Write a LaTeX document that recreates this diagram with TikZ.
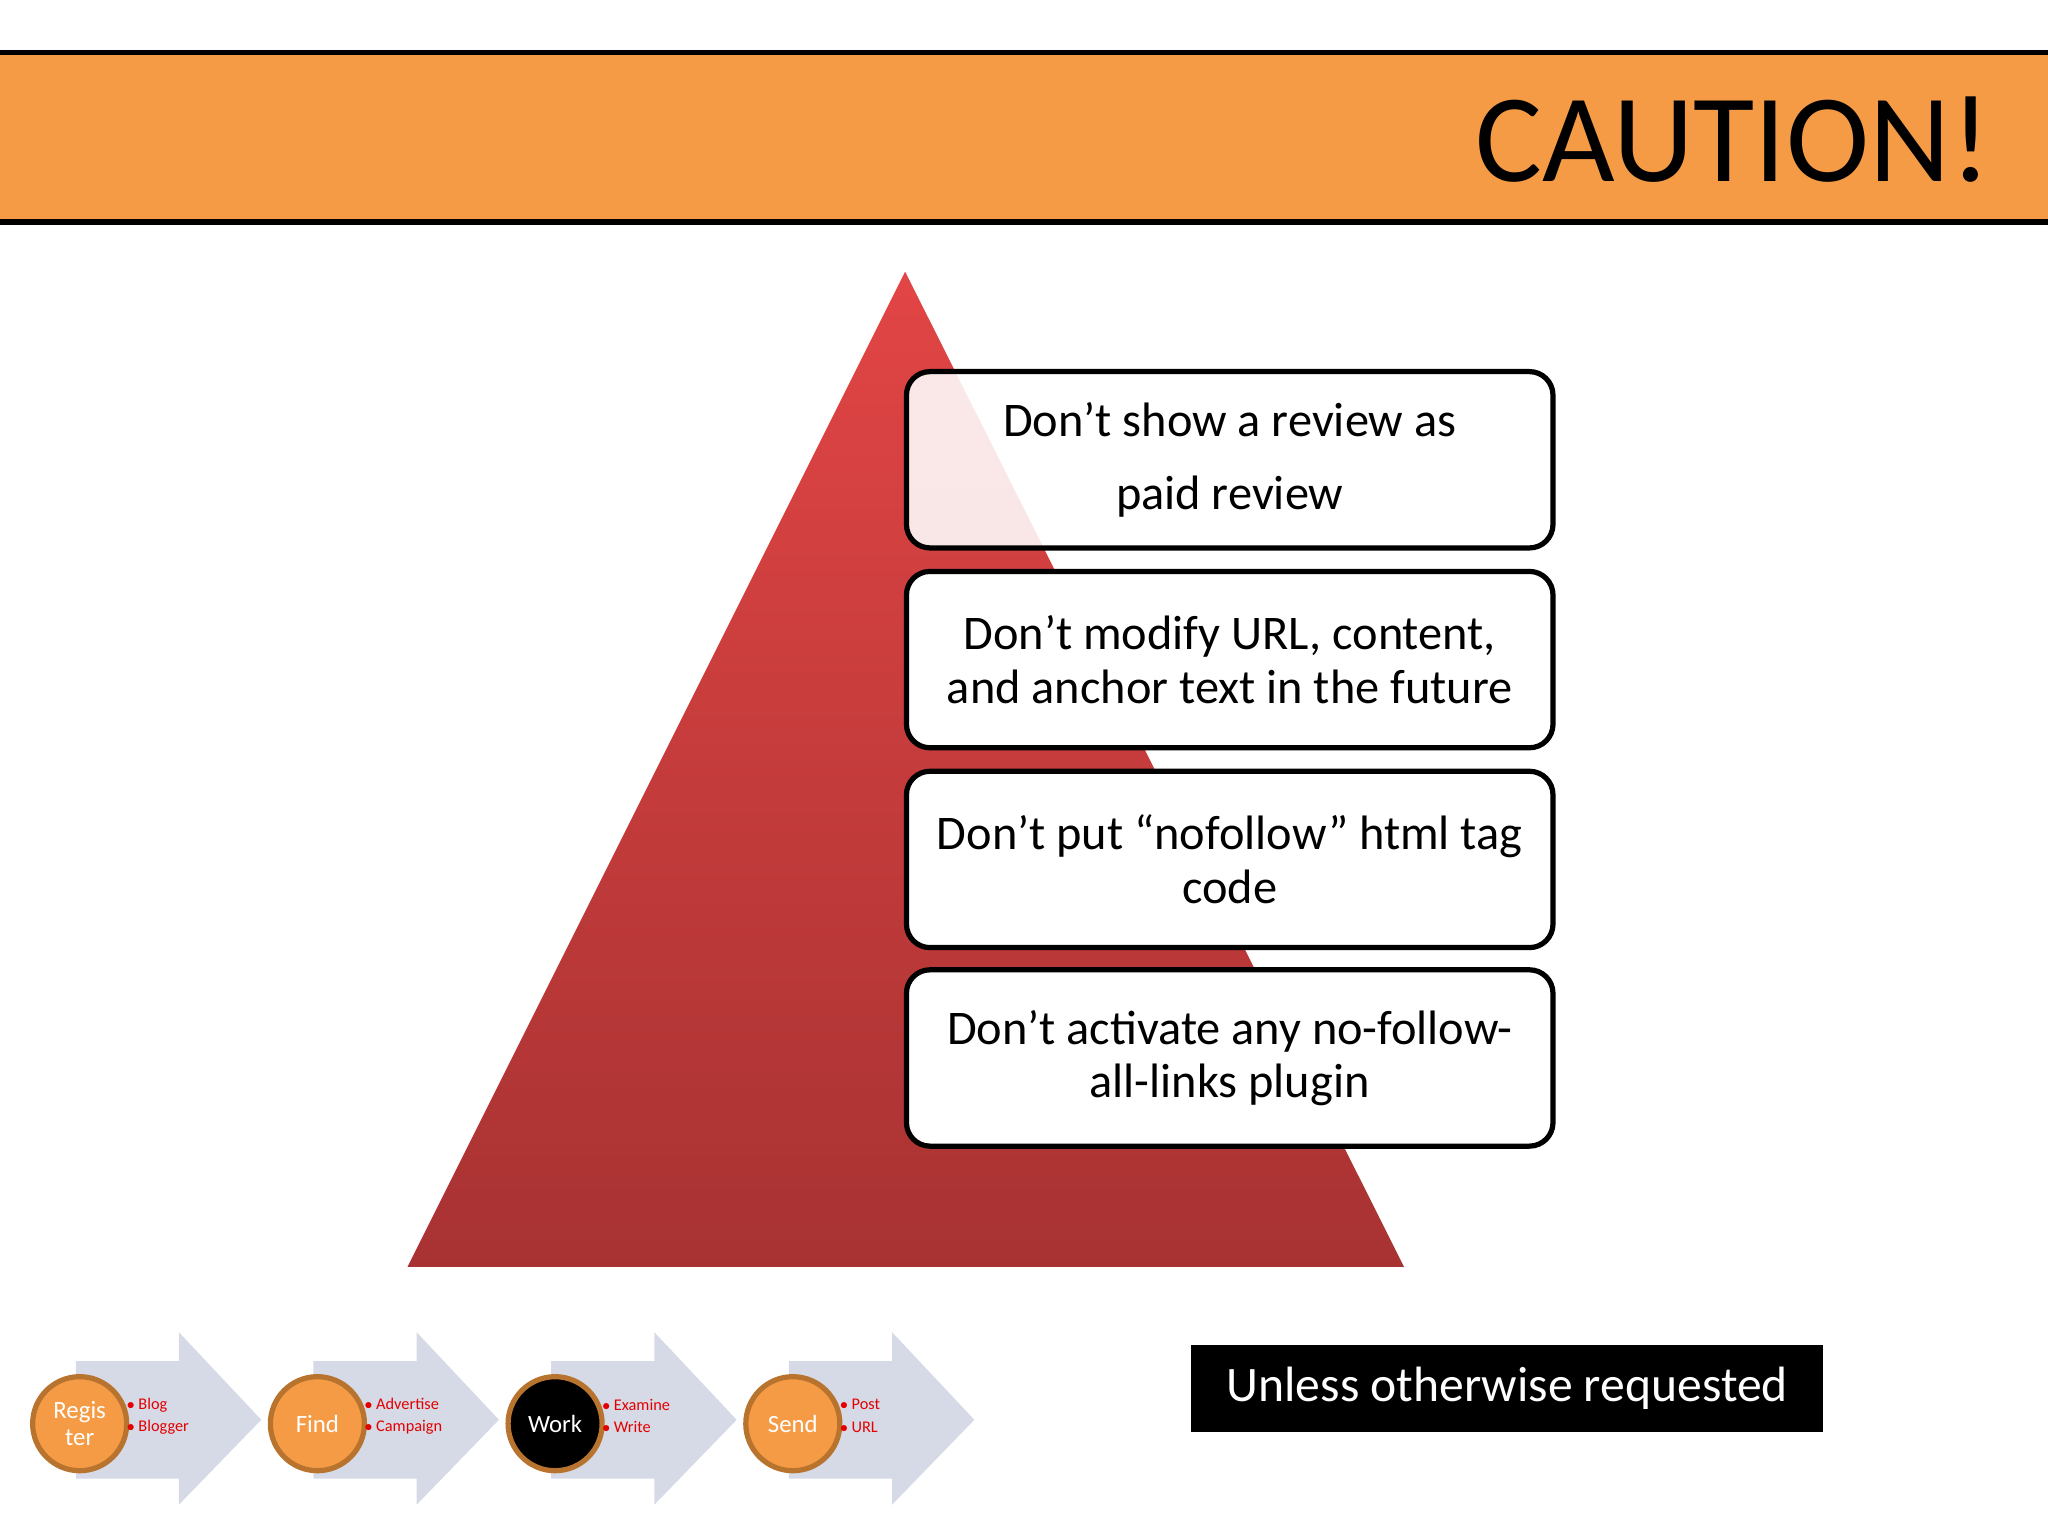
\documentclass[tikz,border=0pt]{standalone}
\usepackage{fontspec}
\setmainfont{Carlito}
\begin{document}
\begin{tikzpicture}[x=1pt,y=-1pt,
  rule/.style={draw=black,line width=4pt,rounded corners=18pt,fill=white,minimum width=495pt,minimum height=135pt,align=center,font=\fontsize{37}{41}\selectfont},
  circ/.style={circle,line width=4pt,minimum size=72pt,inner sep=0pt,text=white,font=\fontsize{19}{21}\selectfont,align=center},
  bul/.style={anchor=west,text=red!90!black,font=\fontsize{12.5}{17}\selectfont,align=left,inner sep=0pt},
  flow/.style={fill=flowc}]
\definecolor{band}{HTML}{F59B45}
\definecolor{circo}{HTML}{F59B45}
\definecolor{circb}{HTML}{B8732E}
\definecolor{flowc}{HTML}{D5DAE6}
\definecolor{tritop}{HTML}{E24545}
\definecolor{trimid}{HTML}{C23838}
\definecolor{tribot}{HTML}{A83232}
\useasboundingbox (0,0) rectangle (1568,1176);
\fill[band] (0,40) rectangle (1568,170);
\draw[line width=4pt] (0,40) -- (1568,40) (0,170) -- (1568,170);
\node[anchor=east,font=\fontsize{96}{100}\selectfont] (title) at (1528,107) {CAUTION!};
\shade[top color=tritop, middle color=trimid, bottom color=tribot] (693,208) -- (1075,970) -- (312,970) -- cycle;
\node[rule,fill opacity=0.88,text opacity=1,font=\fontsize{37}{56}\selectfont] (r1) at (941.5,352) {Don’t show a review as\\paid review};
\node[rule] (r2) at (941.5,505) {Don’t modify URL, content,\\and anchor text in the future};
\node[rule] (r3) at (941.5,658) {Don’t put “nofollow” html tag\\code};
\node[rule] (r4) at (941.5,810) {Don’t activate any no-follow-\\all-links plugin};
\node[fill=black,text=white,minimum width=484pt,minimum height=67pt,font=\fontsize{38}{40}\selectfont] (unless) at (1154,1063) {Unless otherwise requested};
\foreach \i/\t/\a/\b/\f in {0/Regis\\ter/Blog/Blogger/circo,1/Find/Advertise/Campaign/circo,2/Work/Examine/Write/black,3/Send/Post/URL/circo}{
  \begin{scope}[xshift=182*\i]
  \fill[flow] (58,1042) -- (137,1042) -- (137,1020) -- (200,1087) -- (137,1152) -- (137,1132) -- (58,1132) -- cycle;
  \node[circ,draw=circb,fill=\f] (c\i) at (61,1090) {\t};
  \node[bul] (b\i) at (97,1084) {$\bullet$ \a\\$\bullet$ \b};
  \end{scope}
}
\end{tikzpicture}
\end{document}
